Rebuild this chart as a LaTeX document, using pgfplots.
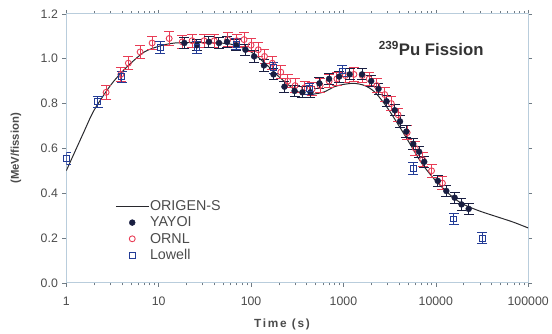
\documentclass[border=0pt]{standalone}
\usepackage{pgfplots}
\pgfplotsset{compat=1.18}
\usepackage{fontspec}
\setmainfont{Liberation Sans}
\definecolor{yayoi}{RGB}{25,30,65}
\definecolor{ornl}{RGB}{232,60,85}
\definecolor{lowell}{RGB}{35,60,150}
\definecolor{frame}{RGB}{185,205,220}
\definecolor{ticktext}{RGB}{75,75,75}
\definecolor{origen}{RGB}{40,40,45}
\begin{document}
\begin{tikzpicture}
\begin{axis}[
  xmode=log, scale only axis, width=467bp, height=272bp,
  xmin=1, xmax=100000, ymin=0, ymax=1.2,
  xtick={1,10,100,1000,10000,100000},
  xticklabels={1,10,100,1000,10000,100000},
  ytick={0,0.2,0.4,0.6,0.8,1.0,1.2},
  yticklabel style={xshift=-1bp, /pgf/number format/fixed, /pgf/number format/fixed zerofill, /pgf/number format/precision=1, /pgf/number format/assume math mode=true},
  tick label style={font=\fontsize{12.5}{14}\selectfont, text=ticktext},
  xticklabel style={yshift=-7bp},
  axis line style={draw=frame, line width=0.8bp},
  tick style={draw=frame!60!black, line width=0.5bp},
  tick align=outside, major tick length=4bp, minor tick length=2.5bp,
  xlabel={Time (s)}, ylabel={(MeV/fission)},
  xlabel style={at={(axis description cs:0.467,-0.154)}, anchor=center, font=\bfseries\fontsize{12}{14}\selectfont\addfontfeatures{LetterSpace=15}, text=ticktext},
  ylabel style={at={(axis description cs:-0.109,0.5)}, anchor=center, font=\bfseries\fontsize{11.5}{13}\selectfont, text=ticktext},
  legend style={draw=none, fill=none, at={(axis description cs:0.106,0.31)}, anchor=north west,
    font=\fontsize{14.5}{16}\selectfont, text=ticktext, row sep=2.8bp, inner sep=0pt,
    nodes={inner sep=1bp}},
  legend cell align=left,
  legend image code/.code={\draw[mark repeat=2,mark phase=2,#1] plot coordinates {(0bp,0bp) (16.5bp,0bp) (33bp,0bp)};},
]
% legend entries
\addlegendimage{origen, line width=1bp, no marks}
\addlegendentry{ORIGEN-S}
\addlegendimage{only marks, mark=*, mark size=3bp, draw=yayoi, fill=yayoi}
\addlegendentry{YAYOI}
\addlegendimage{only marks, mark=o, mark size=3bp, draw=ornl, line width=0.9bp}
\addlegendentry{ORNL}
\addlegendimage{only marks, mark=square, mark size=3bp, draw=lowell, line width=1bp}
\addlegendentry{Lowell}

% ORIGEN-S calculation
\addplot[forget plot, origen, line width=1bp, smooth, tension=0.5] table {
t v
1 0.50
1.5 0.66
2 0.77
3 0.88
4 0.94
5 0.98
7 1.03
10 1.055
15 1.07
30 1.072
60 1.065
100 1.03
150 0.97
200 0.92
300 0.86
400 0.84
600 0.85
800 0.875
1000 0.885
1300 0.89
1700 0.88
2200 0.85
3000 0.78
4000 0.70
5000 0.635
7000 0.535
10000 0.455
15000 0.385
20000 0.35
30000 0.32
50000 0.29
70000 0.27
100000 0.245
};

% ORNL
\addplot[forget plot, only marks, mark=o, mark size=3bp, draw=ornl, line width=0.9bp,
  error bars/.cd, y dir=both, y fixed=0.03,
  error bar style={ornl, line width=1bp},
  error mark options={ornl, line width=1bp, mark size=5bp, rotate=90}] table {
t v
2.7 0.85
3.9 0.93
4.7 0.98
6.3 1.03
8.5 1.07
13 1.09
18 1.075
23 1.08
31 1.08
40 1.08
56 1.085
70 1.08
84 1.085
100 1.06
120 1.04
140 1.01
170 0.98
210 0.94
250 0.90
300 0.88
380 0.87
460 0.865
560 0.88
700 0.90
850 0.91
1050 0.925
1300 0.93
1600 0.925
1900 0.91
2300 0.88
2800 0.84
3300 0.80
3900 0.75
4900 0.67
6000 0.60
7200 0.55
9000 0.50
11800 0.445
};

% YAYOI
\addplot[forget plot, only marks, mark=*, mark size=3bp, draw=yayoi, fill=yayoi,
  error bars/.cd, y dir=both, y fixed=0.025,
  error bar style={yayoi, line width=1bp},
  error mark options={yayoi, line width=1bp, mark size=5bp, rotate=90}] table {
t v
19 1.07
26 1.06
35 1.075
45 1.07
55 1.075
69 1.06
87 1.04
108 1.01
138 0.97
175 0.93
230 0.875
296 0.856
360 0.85
440 0.85
550 0.89
700 0.91
900 0.92
1170 0.93
1590 0.93
2000 0.90
2400 0.865
2930 0.81
3600 0.77
4100 0.72
4800 0.675
5700 0.62
6600 0.585
7500 0.54
10500 0.455
13000 0.41
16000 0.38
19000 0.35
22700 0.33
};

% Lowell
\addplot[forget plot, only marks, mark=square, mark size=3bp, draw=lowell, line width=1bp,
  error bars/.cd, y dir=both, y fixed=0.025,
  error bar style={lowell, line width=1bp},
  error mark options={lowell, line width=1bp, mark size=5bp, rotate=90}] table {
t v
1.0 0.555
2.2 0.807
3.97 0.92
10.4 1.05
26 1.05
69 1.065
175 0.96
430 0.865
970 0.945
5700 0.51
15700 0.285
31700 0.20
};

\node[font=\bfseries\fontsize{17}{19}\selectfont, text=black!80] at (rel axis cs:0.79,0.87) {\textsuperscript{239}Pu Fission};
\end{axis}
\useasboundingbox ([xshift=-67bp,yshift=-49bp]current axis.south west) rectangle ([xshift=18bp,yshift=14bp]current axis.north east);
\end{tikzpicture}
\end{document}
